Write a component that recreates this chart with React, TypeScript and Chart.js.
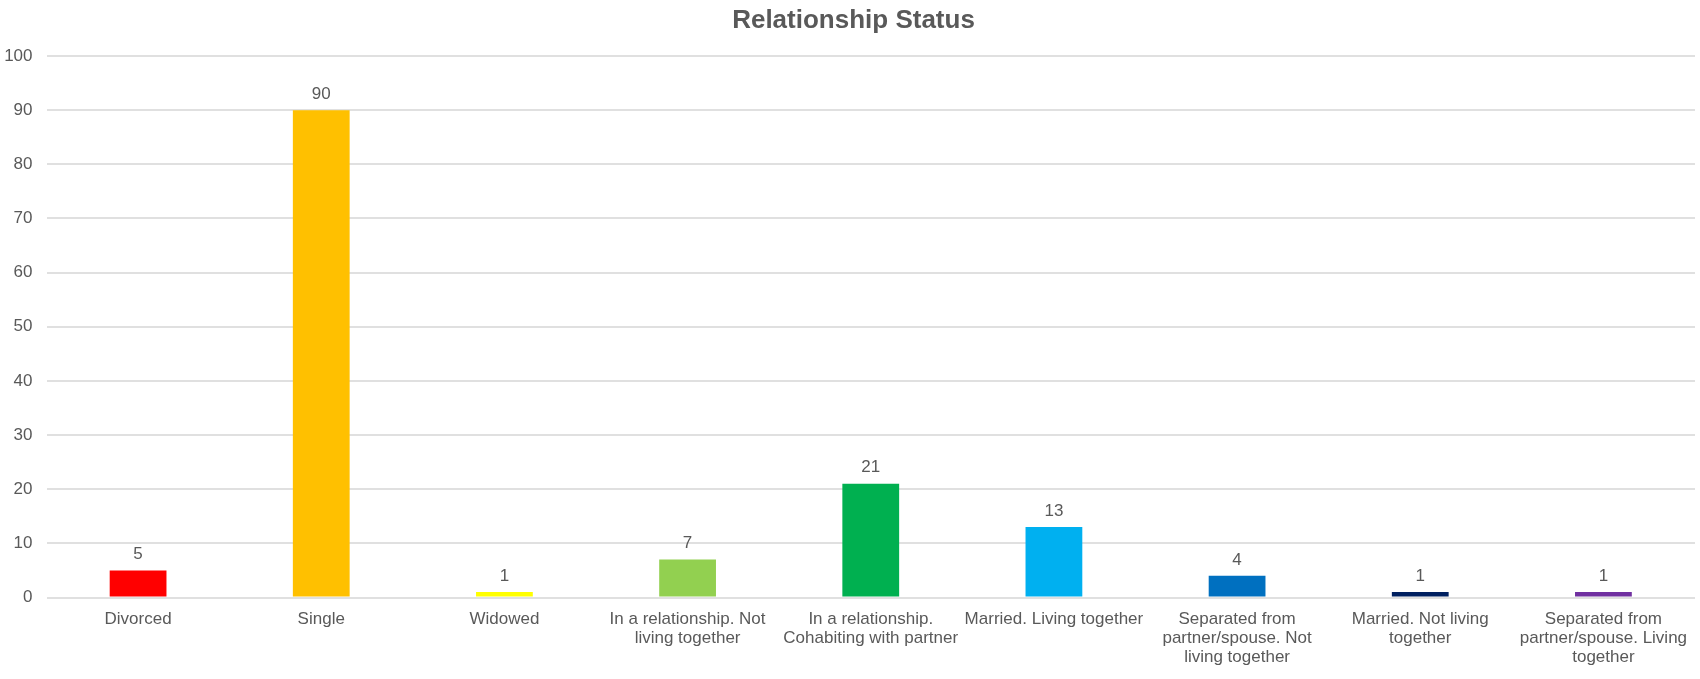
import React, { useEffect, useRef } from "react";
import { Chart, registerables } from "chart.js";

Chart.register(...registerables);

const categories: (string | string[])[] = [
  "Divorced",
  "Single",
  "Widowed",
  ["In a relationship. Not", "living together"],
  ["In a relationship.", "Cohabiting with partner"],
  "Married. Living together",
  ["Separated from", "partner/spouse. Not", "living together"],
  ["Married. Not living", "together"],
  ["Separated from", "partner/spouse. Living", "together"],
];

const values: number[] = [5, 90, 1, 7, 21, 13, 4, 1, 1];

const barColors: string[] = [
  "#FF0000",
  "#FFC000",
  "#FFFF00",
  "#92D050",
  "#00B050",
  "#00B0F0",
  "#0070C0",
  "#002060",
  "#7030A0",
];

const chartTitle = "Relationship Status";
const yMin = 0;
const yMax = 100;
const yStep = 10;

const FONT = "'Liberation Sans', Arial, Helvetica, sans-serif";
const TEXT = "#595959";

export default function App() {
  const ref = useRef<HTMLCanvasElement | null>(null);

  useEffect(() => {
    if (!ref.current) return;

    const titlePlugin = {
      id: "customTitle",
      afterDraw(chart: any) {
        const ctx = chart.ctx;
        ctx.save();
        ctx.font = `bold 26px ${FONT}`;
        ctx.fillStyle = TEXT;
        ctx.textAlign = "center";
        ctx.textBaseline = "alphabetic";
        ctx.fillText(chartTitle, 853.5, 27.5);
        ctx.restore();
      },
    };

    const labelPlugin = {
      id: "valueLabels",
      afterDatasetsDraw(chart: any) {
        const ctx = chart.ctx;
        const meta = chart.getDatasetMeta(0);
        ctx.save();
        ctx.font = `17px ${FONT}`;
        ctx.fillStyle = TEXT;
        ctx.textAlign = "center";
        ctx.textBaseline = "middle";
        meta.data.forEach((bar: any, i: number) => {
          ctx.fillText(String(values[i]), bar.x, bar.y - 16);
        });
        ctx.restore();
      },
    };

    const chart = new Chart(ref.current, {
      type: "bar",
      data: {
        labels: categories,
        datasets: [
          {
            data: values,
            backgroundColor: barColors,
            borderWidth: 0,
            barPercentage: 0.31,
            categoryPercentage: 1,
          },
        ],
      },
      options: {
        animation: false,
        responsive: false,
        maintainAspectRatio: false,
        layout: { padding: { top: 56, right: 5, left: 0, bottom: 0 } },
        plugins: {
          legend: { display: false },
          title: { display: false },
          tooltip: { enabled: false },
        },
        scales: {
          x: {
            grid: { display: false, drawTicks: false },
            border: { display: false },
            ticks: {
              color: TEXT,
              font: { family: FONT, size: 17, lineHeight: 19 / 17 },
              padding: 12,
              maxRotation: 0,
              autoSkip: false,
            },
            afterFit(scale: any) {
              scale.height = 81.5;
            },
          },
          y: {
            min: yMin,
            max: yMax,
            grid: { color: "#e0e0e0", lineWidth: 2, drawTicks: false },
            border: { display: false },
            ticks: {
              stepSize: yStep,
              color: TEXT,
              font: { family: FONT, size: 17 },
              padding: 14,
            },
            afterFit(scale: any) {
              scale.width = 46.5;
            },
          },
        },
      },
      plugins: [titlePlugin, labelPlugin],
    });

    return () => chart.destroy();
  }, []);

  return (
    <div style={{ position: "fixed", left: 0, top: 0, width: 1700, height: 679, background: "#fff" }}>
      <canvas ref={ref} width={1700} height={679} style={{ width: 1700, height: 679 }} />
    </div>
  );
}
